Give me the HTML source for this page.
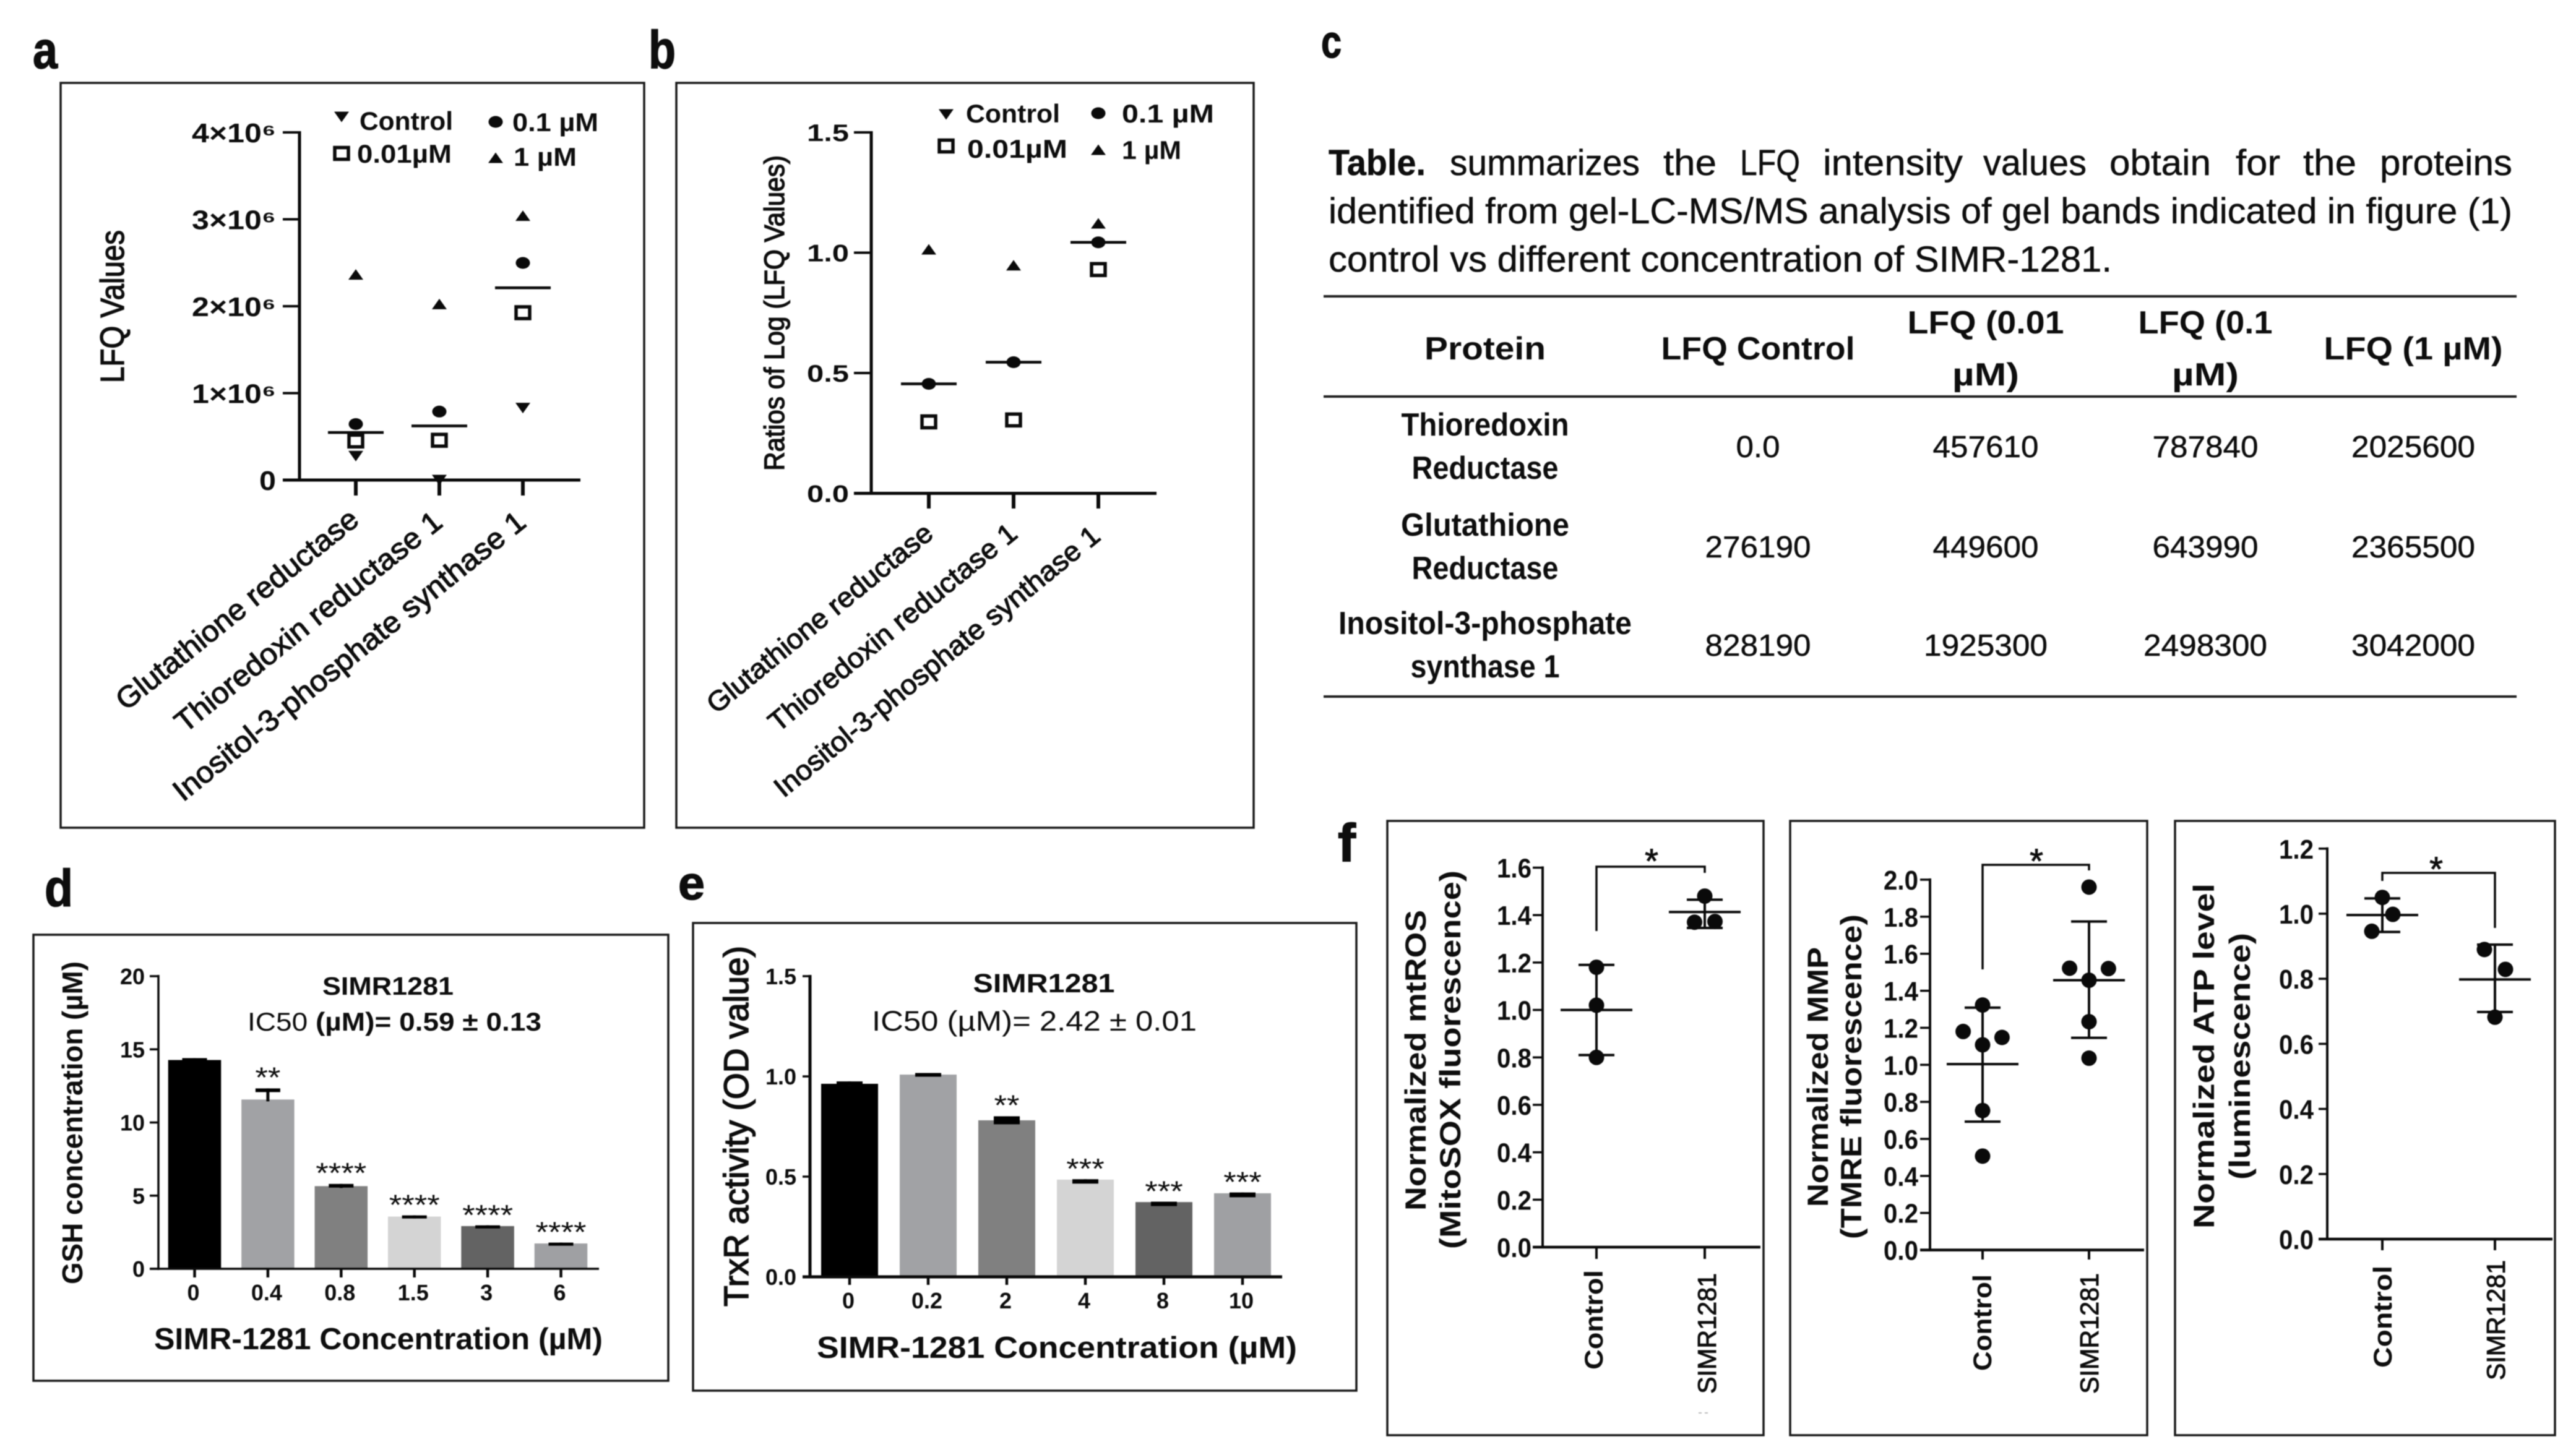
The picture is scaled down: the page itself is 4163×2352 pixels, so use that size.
<!DOCTYPE html>
<html lang="en"><head><meta charset="utf-8"><title>SIMR-1281 figure</title>
<style>
html,body{margin:0;padding:0;background:#fff}
svg{display:block;filter:blur(0.9px)}
text{font-family:"Liberation Sans","DejaVu Sans",sans-serif;fill:#0d0d0d}
.lt{font-size:58px;font-weight:400;stroke:#0d0d0d;stroke-width:0.5}
.tb{font-size:52px;font-weight:700}
.tn{font-size:49px;font-weight:400;stroke:#0d0d0d;stroke-width:0.5}
.pl{font-weight:700;stroke:#0d0d0d;stroke-width:1.5}
.frame{fill:none;stroke:#1a1a1a;stroke-width:3.5}
.rule{stroke:#222;stroke-width:4}
</style></head><body>
<svg id="fig" xmlns="http://www.w3.org/2000/svg" width="4163" height="2352" viewBox="0 0 4163 2352">
<rect x="0" y="0" width="4163" height="2352" fill="#fff"/>
<text class="pl" x="53" y="110" font-size="84" textLength="40" lengthAdjust="spacingAndGlyphs">a</text>
<text class="pl" x="1048" y="110" font-size="86" textLength="44" lengthAdjust="spacingAndGlyphs">b</text>
<text class="pl" x="2135" y="93" font-size="74" textLength="33" lengthAdjust="spacingAndGlyphs">c</text>
<text class="pl" x="72" y="1465" font-size="84" textLength="46" lengthAdjust="spacingAndGlyphs">d</text>
<text class="pl" x="1096" y="1454" font-size="76" textLength="43" lengthAdjust="spacingAndGlyphs">e</text>
<text class="pl" x="2162" y="1392" font-size="86" textLength="29" lengthAdjust="spacingAndGlyphs">f</text>

<rect class="frame" x="98" y="134" width="943" height="1204"/>
<rect class="frame" x="1093" y="134" width="933" height="1204"/>
<rect class="frame" x="54" y="1511" width="1026" height="721"/>
<rect class="frame" x="1120" y="1492" width="1072" height="756"/>
<rect class="frame" x="2242" y="1327" width="608" height="993"/>
<rect class="frame" x="2893" y="1327" width="577" height="993"/>
<rect class="frame" x="3515" y="1327" width="614" height="993"/>

<g>
<text class="lt" style="font-weight:700" x="2147" y="283" textLength="157" lengthAdjust="spacingAndGlyphs">Table.</text>
<text class="lt" x="2343" y="283" textLength="307" lengthAdjust="spacingAndGlyphs">summarizes</text>
<text class="lt" x="2688" y="283" textLength="86" lengthAdjust="spacingAndGlyphs">the</text>
<text class="lt" x="2812" y="283" textLength="97" lengthAdjust="spacingAndGlyphs">LFQ</text>
<text class="lt" x="2946" y="283" textLength="226" lengthAdjust="spacingAndGlyphs">intensity</text>
<text class="lt" x="3205" y="283" textLength="167" lengthAdjust="spacingAndGlyphs">values</text>
<text class="lt" x="3409" y="283" textLength="164" lengthAdjust="spacingAndGlyphs">obtain</text>
<text class="lt" x="3613" y="283" textLength="72" lengthAdjust="spacingAndGlyphs">for</text>
<text class="lt" x="3722" y="283" textLength="86" lengthAdjust="spacingAndGlyphs">the</text>
<text class="lt" x="3846" y="283" textLength="214" lengthAdjust="spacingAndGlyphs">proteins</text>
<text class="lt" x="2147" y="361" textLength="1913" lengthAdjust="spacingAndGlyphs">identified from gel-LC-MS/MS analysis of gel bands indicated in figure (1)</text>
<text class="lt" x="2147" y="439" textLength="1266" lengthAdjust="spacingAndGlyphs">control vs different concentration of SIMR-1281.</text>
</g>
<line class="rule" x1="2139" x2="4067" y1="479" y2="479"/>
<line class="rule" x1="2139" x2="4067" y1="641" y2="641"/>
<line class="rule" x1="2139" x2="4067" y1="1126" y2="1126"/>
<g text-anchor="middle">
<text class="tb" x="2400" y="581" textLength="196" lengthAdjust="spacingAndGlyphs">Protein</text>
<text class="tb" x="2841" y="581" textLength="313" lengthAdjust="spacingAndGlyphs">LFQ Control</text>
<text class="tb" x="3209" y="539" textLength="253" lengthAdjust="spacingAndGlyphs">LFQ (0.01</text>
<text class="tb" x="3209" y="623" textLength="108" lengthAdjust="spacingAndGlyphs">µM)</text>
<text class="tb" x="3564" y="539" textLength="217" lengthAdjust="spacingAndGlyphs">LFQ (0.1</text>
<text class="tb" x="3564" y="623" textLength="108" lengthAdjust="spacingAndGlyphs">µM)</text>
<text class="tb" x="3900" y="581" textLength="289" lengthAdjust="spacingAndGlyphs">LFQ (1 µM)</text>
<text class="tb" x="2400" y="704" textLength="271" lengthAdjust="spacingAndGlyphs">Thioredoxin</text>
<text class="tb" x="2400" y="774" textLength="237" lengthAdjust="spacingAndGlyphs">Reductase</text>
<text class="tn" x="2841" y="739" textLength="71" lengthAdjust="spacingAndGlyphs">0.0</text>
<text class="tn" x="3209" y="739" textLength="171" lengthAdjust="spacingAndGlyphs">457610</text>
<text class="tn" x="3564" y="739" textLength="171" lengthAdjust="spacingAndGlyphs">787840</text>
<text class="tn" x="3900" y="739" textLength="200" lengthAdjust="spacingAndGlyphs">2025600</text>
<text class="tb" x="2400" y="866" textLength="272" lengthAdjust="spacingAndGlyphs">Glutathione</text>
<text class="tb" x="2400" y="936" textLength="237" lengthAdjust="spacingAndGlyphs">Reductase</text>
<text class="tn" x="2841" y="901" textLength="171" lengthAdjust="spacingAndGlyphs">276190</text>
<text class="tn" x="3209" y="901" textLength="171" lengthAdjust="spacingAndGlyphs">449600</text>
<text class="tn" x="3564" y="901" textLength="171" lengthAdjust="spacingAndGlyphs">643990</text>
<text class="tn" x="3900" y="901" textLength="200" lengthAdjust="spacingAndGlyphs">2365500</text>
<text class="tb" x="2400" y="1025" textLength="474" lengthAdjust="spacingAndGlyphs">Inositol-3-phosphate</text>
<text class="tb" x="2400" y="1095" textLength="241" lengthAdjust="spacingAndGlyphs">synthase 1</text>
<text class="tn" x="2841" y="1060" textLength="171" lengthAdjust="spacingAndGlyphs">828190</text>
<text class="tn" x="3209" y="1060" textLength="200" lengthAdjust="spacingAndGlyphs">1925300</text>
<text class="tn" x="3564" y="1060" textLength="200" lengthAdjust="spacingAndGlyphs">2498300</text>
<text class="tn" x="3900" y="1060" textLength="200" lengthAdjust="spacingAndGlyphs">3042000</text>
</g>

<g font-weight="700">
<text x="627" y="1608" font-size="41" text-anchor="middle" textLength="212" lengthAdjust="spacingAndGlyphs" font-weight="700">SIMR1281</text>
<text x="400" y="1666" font-size="42" textLength="475" lengthAdjust="spacingAndGlyphs" font-weight="700"><tspan font-weight="400">IC50 </tspan>(µM)= 0.59 ± 0.13</text>
<text x="1687" y="1604" font-size="43" text-anchor="middle" textLength="229" lengthAdjust="spacingAndGlyphs" font-weight="700">SIMR1281</text>
<text x="1409" y="1666" font-size="45" textLength="525" lengthAdjust="spacingAndGlyphs" font-weight="400">IC50 (µM)= 2.42 ± 0.01</text>
</g>
<rect x="2745" y="2283" width="5" height="2" fill="#bbb"/>
<rect x="2755" y="2283" width="5" height="2" fill="#bbb"/>
</svg>
<script>
// ---- Panel a data ----
const aCategories = ['Glutathione reductase', 'Thioredoxin reductase 1', 'Inositol-3-phosphate synthase 1'];
const aControl = [276190, 0, 828190];
const aPoint01 = [449600, 457610, 1925300];
const aPoint1 = [643990, 787840, 2498300];
const aOne = [2365500, 2025600, 3042000];
const aMedian = [546800, 622700, 2211800];
const aTickValues = [0, 1000000, 2000000, 3000000, 4000000];
const aTickLabels = ['0', '1×10⁶', '2×10⁶', '3×10⁶', '4×10⁶'];
// ---- Panel b data ----
const bCategories = ['Glutathione reductase', 'Thioredoxin reductase 1', 'Inositol-3-phosphate synthase 1'];
const bPoint01 = [0.297, 0.305, 0.93];
const bPoint1 = [0.455, 0.545, 1.043];
const bOne = [1.014, 0.948, 1.122];
const bMedian = [0.455, 0.545, 1.043];
const bTickValues = [0, 0.5, 1, 1.5];
const bTickLabels = ['0.0', '0.5', '1.0', '1.5'];
// ---- Panel d data ----
const dCategories = ['0', '0.4', '0.8', '1.5', '3', '6'];
const dValues = [14.27, 11.57, 5.65, 3.57, 2.92, 1.73];
const dErrUp = [0.13, 0.76, 0.15, 0.08, 0.05, 0.06];
const dErrDown = [0, 0, 0.1, 0.1, 0.1, 0.15];
const dStars = ['', '**', '****', '****', '****', '****'];
const dTickValues = [0, 5, 10, 15, 20];
const dTickLabels = ['0', '5', '10', '15', '20'];
// ---- Panel e data ----
const eCategories = ['0', '0.2', '2', '4', '8', '10'];
const eValues = [0.963, 1.009, 0.781, 0.485, 0.373, 0.417];
const eErrUp = [0.012, 0.008, 0.02, 0.002, 0.002, 0.004];
const eErrDown = [0, 0, 0.02, 0.02, 0.02, 0.02];
const eStars = ['', '', '**', '***', '***', '***'];
const eTickValues = [0, 0.5, 1, 1.5];
const eTickLabels = ['0.0', '0.5', '1.0', '1.5'];
// ---- Panel f data ----
const fCategories = ['Control', 'SIMR1281'];
const mtrosControl = [1.18, 1.02, 0.8];
const mtrosTreated = [1.48, 1.37, 1.373];
const mtrosSlotsControl = [0, 0, 0];
const mtrosSlotsTreated = [0, -1, 1];
const mtrosMean = [1.0, 1.413];
const mtrosUpper = [1.19, 1.465];
const mtrosLower = [0.81, 1.346];
const mtrosTicks = ['0.0', '0.2', '0.4', '0.6', '0.8', '1.0', '1.2', '1.4', '1.6'];
const mmpControl = [1.323, 1.18, 1.148, 1.108, 0.753, 0.507];
const mmpTreated = [1.96, 1.522, 1.52, 1.457, 1.233, 1.036];
const mmpSlotsControl = [0, -2, 2, 0, 0, 0];
const mmpSlotsTreated = [0, -2, 2, 0, 0, 0];
const mmpMean = [1.004, 1.457];
const mmpUpper = [1.309, 1.774];
const mmpLower = [0.693, 1.146];
const mmpTicks = ['0.0', '0.2', '0.4', '0.6', '0.8', '1.0', '1.2', '1.4', '1.6', '1.8', '2.0'];
const atpControl = [1.05, 0.998, 0.946];
const atpTreated = [0.89, 0.829, 0.682];
const atpSlotsControl = [0, 1, -1];
const atpSlotsTreated = [-1, 1, 0];
const atpMean = [0.996, 0.798];
const atpUpper = [1.047, 0.905];
const atpLower = [0.944, 0.698];
const atpTicks = ['0.0', '0.2', '0.4', '0.6', '0.8', '1.0', '1.2'];

const NS = 'http://www.w3.org/2000/svg';
const fig = document.getElementById('fig');
function mk(parent, tag, attrs, name) {
  const el = document.createElementNS(NS, tag);
  for (const k in attrs) el.setAttribute(k, attrs[k]);
  
  
  parent.appendChild(el);
  return el;
}
function group(name) { return mk(fig, 'g', {}, name); }
function txt(p, s, x, y, o, name) {
  const a = { 'font-size': o.size, 'font-weight': o.weight || 700, 'text-anchor': o.anchor || 'start',
    transform: 'translate(' + x + ',' + y + ')' + (o.rot ? ' rotate(' + o.rot + ')' : '') };
  if (o.len) { a.textLength = o.len; a.lengthAdjust = 'spacingAndGlyphs'; }
  if (o.sw) { a.stroke = '#0d0d0d'; a['stroke-width'] = o.sw; }
  const t = mk(p, 'text', a, name);
  t.textContent = s;
  return t;
}
function ln(p, x1, y1, x2, y2, w, name) {
  return mk(p, 'line', { x1: x1, y1: y1, x2: x2, y2: y2, stroke: '#0a0a0a', 'stroke-width': w }, name);
}
function linear(zero, perUnit) { return function (v) { return zero - v * perUnit; }; }
function triangle(p, x, y, up, name) {
  const d = up ? -1 : 1;
  const pts = [[x - 12, y - d * 8.5], [x + 12, y - d * 8.5], [x, y + d * 8.5]].map(function (q) { return q.join(','); }).join(' ');
  return mk(p, 'polygon', { points: pts, fill: '#0a0a0a' }, name);
}
function square(p, x, y, name) {
  return mk(p, 'rect', { x: x - 11, y: y - 9.5, width: 22, height: 19, fill: '#fff', stroke: '#0a0a0a', 'stroke-width': 5.5 }, name);
}
function circle(p, x, y, name) {
  return mk(p, 'ellipse', { cx: x, cy: y, rx: 11.5, ry: 9.5, fill: '#0a0a0a' }, name);
}

// -------- panels a and b ---------
function lfqPanel(c) {
  const g = group(c.name);
  const y = linear(c.y0, c.perUnit);
  const topV = c.tickValues[c.tickValues.length - 1];
  ln(g, c.axisX, y(topV) - 2, c.axisX, c.y0 + 2, 5, 'y-axis-line');
  ln(g, c.tickLeft, c.y0, c.axisRight, c.y0, 5, 'x-axis-line');
  c.tickValues.forEach(function (v, i) {
    ln(g, c.tickLeft, y(v), c.axisX, y(v), 4, 'y-tick');
    txt(g, c.tickLabels[i], c.labelRight, y(v) + c.tickSize * 0.36, { size: c.tickSize, anchor: 'end', len: c.tickLen(c.tickLabels[i]) }, 'y-tick-label');
  });
  c.categories.forEach(function (cat, i) {
    const x = c.catX[i];
    ln(g, x, c.y0, x, c.tickBottom, 6, 'x-tick');
    txt(g, cat, x + c.labelDx[i], c.labelY[i], { size: c.catSize, weight: 400, anchor: 'end', rot: c.catRot, len: c.catLen[i], sw: 1.2 }, 'category-label');
    if (c.control) triangle(g, x, y(c.control[i]), false, 'point-control');
    circle(g, x, y(c.p1[i]), 'point-0-1-um');
    square(g, x, y(c.p01[i]), 'point-0-01-um');
    triangle(g, x, y(c.one[i]), true, 'point-1-um');
    ln(g, x - 45, y(c.median[i]), x + 45, y(c.median[i]), 4.5, 'median-line');
  });
  txt(g, c.yTitle, c.yTitleX, c.yTitleY, { size: c.yTitleSize, weight: 400, rot: -90, len: c.yTitleLen, sw: 1.4 }, 'y-axis-title');
  const L = c.legend;
  triangle(g, L.x1, L.y1m, false, 'legend-marker-control');
  txt(g, 'Control', L.tx1, L.y1t, { size: 42, len: L.w[0] }, 'legend-label-control');
  circle(g, L.x2, L.y2m, 'legend-marker-0-1-um');
  txt(g, '0.1 µM', L.tx2, L.y2t, { size: 42, len: L.w[1] }, 'legend-label-0-1-um');
  square(g, L.x1, L.y3m, 'legend-marker-0-01-um');
  txt(g, '0.01µM', L.tx3, L.y3t, { size: 42, len: L.w[2] }, 'legend-label-0-01-um');
  triangle(g, L.x2, L.y4m, true, 'legend-marker-1-um');
  txt(g, '1 µM', L.tx4, L.y4t, { size: 42, len: L.w[3] }, 'legend-label-1-um');
}
lfqPanel({
  name: 'panel-a-lfq-values-chart', categories: aCategories, control: aControl, p01: aPoint01, p1: aPoint1, one: aOne, median: aMedian,
  tickValues: aTickValues, tickLabels: aTickLabels, y0: 776, perUnit: 140.5 / 1000000, axisX: 484, tickLeft: 457, axisRight: 938, tickBottom: 801,
  labelRight: 446, tickSize: 44, tickLen: function (s) { return s.length > 1 ? 136 : 27; },
  catX: [575, 710, 845], labelDx: [8, 8, 8], labelY: [845, 849, 849], catRot: -38.8, catSize: 48, catLen: [487, 538, 715],
  yTitle: 'LFQ Values', yTitleX: 200, yTitleY: 619, yTitleSize: 54, yTitleLen: 247,
  legend: { x1: 552, x2: 801, y1m: 189, y2m: 197, y3m: 248, y4m: 255, tx1: 581, tx2: 828, tx3: 577, tx4: 830, y1t: 210, y2t: 212, y3t: 263, y4t: 268, w: [151, 139, 153, 102] }
});
lfqPanel({
  name: 'panel-b-log-ratio-chart', categories: bCategories, control: null, p01: bPoint01, p1: bPoint1, one: bOne, median: bMedian,
  tickValues: bTickValues, tickLabels: bTickLabels, y0: 797.5, perUnit: 389, axisX: 1408, tickLeft: 1380, axisRight: 1869, tickBottom: 822,
  labelRight: 1372, tickSize: 39, tickLen: function () { return 68; },
  catX: [1501, 1638, 1775], labelDx: [10, 9, 6], labelY: [867, 867, 871], catRot: -39.2, catSize: 45, catLen: [456, 503, 664],
  yTitle: 'Ratios of Log (LFQ Values)', yTitleX: 1267, yTitleY: 761, yTitleSize: 45, yTitleLen: 510,
  legend: { x1: 1529, x2: 1775, y1m: 185, y2m: 183, y3m: 236, y4m: 242, tx1: 1561, tx2: 1813, tx3: 1563, tx4: 1813, y1t: 198, y2t: 198, y3t: 255, y4t: 257, w: [152, 149, 162, 96] }
});

// -------- panels d and e ---------
const barFills = ['#000000', '#a1a2a5', '#808080', '#d4d4d4', '#636363', '#9fa0a3'];
function barPanel(c) {
  const g = group(c.name);
  const y = linear(c.y0, c.perUnit);
  const x = function (i) { return c.firstX + i * c.stepX; };
  c.values.forEach(function (v, i) {
    mk(g, 'rect', { x: x(i) - c.barW / 2, y: y(v), width: c.barW, height: c.y0 - y(v), fill: barFills[i] }, 'bar-' + c.categories[i]);
  });
  c.values.forEach(function (v, i) {
    const top = y(v + c.errUp[i]);
    ln(g, x(i), top, x(i), y(v) + 3, 5, 'error-stem');
    const capHeight = c.errDown[i] > 0 ? Math.max(5, y(v - c.errDown[i]) - top) : 6;
    mk(g, 'rect', { x: x(i) - c.capW, y: top, width: 2 * c.capW, height: capHeight, fill: '#000' }, 'error-cap');
    if (c.stars[i]) txt(g, c.stars[i], x(i), top + c.starDy[i], { size: 46, weight: 400, anchor: 'middle', len: c.stars[i].length * 20.5 }, 'significance-stars');
    ln(g, x(i), c.y0, x(i), c.tickBottom, 4.5, 'x-tick');
    txt(g, c.categories[i], x(i) - 2, c.catY, { size: 36, anchor: 'middle' }, 'x-tick-label');
  });
  const top = y(c.tickValues[c.tickValues.length - 1]);
  ln(g, c.axisX, top - 2, c.axisX, c.y0 + 2, c.axisW, 'y-axis-line');
  ln(g, c.tickLeft, c.y0, c.axisRight, c.y0, c.axisW, 'x-axis-line');
  c.tickValues.forEach(function (v, i) {
    ln(g, c.tickLeft, y(v), c.axisX, y(v), 3.5, 'y-tick');
    txt(g, c.tickLabels[i], c.labelRight, y(v) + 13, { size: 36, anchor: 'end' }, 'y-tick-label');
  });
  txt(g, 'SIMR-1281 Concentration (µM)', c.xTitleX, c.xTitleY, { size: 49, len: c.xTitleLen }, 'x-axis-title');
  txt(g, c.yTitle, c.yTitleX, c.yTitleY, { size: c.yTitleSize, rot: -90, len: c.yTitleLen, weight: c.yTitleWeight, sw: c.yTitleStroke }, 'y-axis-title');
}
barPanel({
  name: 'panel-d-gsh-chart', categories: dCategories, values: dValues, errUp: dErrUp, errDown: dErrDown, stars: dStars,
  tickValues: dTickValues, tickLabels: dTickLabels, y0: 2051, perUnit: 23.65, firstX: 314.5, stepX: 118.4, barW: 85.5, capW: 20,
  axisX: 256, tickLeft: 242, axisRight: 968, axisW: 3.5, tickBottom: 2065, labelRight: 234, catY: 2102, starDy: [0, -2, -2, -1, -1, -1],
  xTitleX: 249, xTitleY: 2181, xTitleLen: 725, yTitle: 'GSH concentration (µM)', yTitleX: 133, yTitleY: 2076, yTitleSize: 46, yTitleLen: 522, yTitleWeight: 700, yTitleStroke: 0
});
barPanel({
  name: 'panel-e-trxr-chart', categories: eCategories, values: eValues, errUp: eErrUp, errDown: eErrDown, stars: eStars,
  tickValues: eTickValues, tickLabels: eTickLabels, y0: 2064, perUnit: 324, firstX: 1373, stepX: 127, barW: 92, capW: 21,
  axisX: 1309, tickLeft: 1297, axisRight: 2072, axisW: 5, tickBottom: 2077, labelRight: 1287, catY: 2115, starDy: [0, 0, -2, -1, -1, -1],
  xTitleX: 1320, xTitleY: 2195, xTitleLen: 776, yTitle: 'TrxR activity (OD value)', yTitleX: 1209, yTitleY: 2112, yTitleSize: 56, yTitleLen: 583, yTitleWeight: 400, yTitleStroke: 1.6
});

// -------- panel f ---------
function dotPanel(c) {
  const g = group(c.name);
  const y = linear(c.y0, c.perUnit);
  c.ticks.forEach(function (label, i) {
    const v = parseFloat(label);
    ln(g, c.tickLeft, y(v), c.axisX, y(v), 3.5, 'y-tick');
    txt(g, label, c.labelRight, y(v) + 16, { size: 44, anchor: 'end', len: 56 }, 'y-tick-label');
  });
  const topV = parseFloat(c.ticks[c.ticks.length - 1]);
  ln(g, c.axisX, y(topV) - 2, c.axisX, c.y0 + 2, 4, 'y-axis-line');
  ln(g, c.tickLeft, c.y0, c.axisRight, c.y0, 4.5, 'x-axis-line');
  fCategories.forEach(function (cat, i) {
    const x = c.catX[i];
    ln(g, x, c.y0, x, c.tickBottom, 4, 'x-tick');
    txt(g, cat, c.catBase[i], c.catStart[i], { size: 42, rot: -90, weight: i ? 400 : 700, len: c.catLen[i], sw: i ? 1 : 0 }, 'category-label');
    ln(g, x, y(c.upper[i]), x, y(c.lower[i]), 4, 'sd-stem');
    ln(g, x - 29, y(c.upper[i]), x + 29, y(c.upper[i]), 4, 'sd-cap-upper');
    ln(g, x - 29, y(c.lower[i]), x + 29, y(c.lower[i]), 4, 'sd-cap-lower');
    ln(g, x - 58, y(c.mean[i]), x + 58, y(c.mean[i]), 4, 'mean-line');
    c.points[i].forEach(function (v, j) {
      mk(g, 'circle', { cx: x + c.slots[i][j] * c.slotPx, cy: y(v), r: 12.5, fill: '#0a0a0a' }, 'data-point');
    });
  });
  const b = c.bracket;
  mk(g, 'polyline', { points: [c.catX[0], b.left, c.catX[0], b.top, c.catX[1], b.top, c.catX[1], b.right].join(' '), fill: 'none', stroke: '#0a0a0a', 'stroke-width': 3.5 }, 'significance-bracket');
  txt(g, '*', b.starX, b.starY + 32, { size: 56, weight: 400, anchor: 'middle', sw: 1 }, 'significance-star');
  c.titles.forEach(function (t, i) {
    txt(g, t[0], t[1], t[2], { size: 47, rot: -90, len: t[3] }, 'y-axis-title-line-' + (i + 1));
  });
}
dotPanel({
  name: 'panel-f-mtros-chart', ticks: mtrosTicks, y0: 2016, perUnit: 383.4, axisX: 2493, tickLeft: 2477, axisRight: 2845, tickBottom: 2035, labelRight: 2475,
  catX: [2580, 2755], catBase: [2590, 2773], catStart: [2214, 2253], catLen: [161, 195],
  points: [mtrosControl, mtrosTreated], slots: [mtrosSlotsControl, mtrosSlotsTreated], slotPx: 16.5, mean: mtrosMean, upper: mtrosUpper, lower: mtrosLower,
  bracket: { left: 1505, top: 1401, right: 1411, starX: 2669, starY: 1379 },
  titles: [['Normalized mtROS', 2304, 1957, 486], ['(MitoSOX fluorescence)', 2360, 2019, 612]]
});
dotPanel({
  name: 'panel-f-mmp-chart', ticks: mmpTicks, y0: 2020.6, perUnit: 299.3, axisX: 3119, tickLeft: 3103, axisRight: 3465, tickBottom: 2036, labelRight: 3100,
  catX: [3204, 3376], catBase: [3218, 3391], catStart: [2216, 2253], catLen: [156, 195],
  points: [mmpControl, mmpTreated], slots: [mmpSlotsControl, mmpSlotsTreated], slotPx: 15.7, mean: mmpMean, upper: mmpUpper, lower: mmpLower,
  bracket: { left: 1567, top: 1398, right: 1407, starX: 3291, starY: 1379 },
  titles: [['Normalized MMP', 2954, 1951, 420], ['(TMRE fluorescence)', 3008, 2003, 525]]
});
dotPanel({
  name: 'panel-f-atp-chart', ticks: atpTicks, y0: 2003, perUnit: 526, axisX: 3761, tickLeft: 3747, axisRight: 4125, tickBottom: 2021, labelRight: 3739,
  catX: [3850, 4032], catBase: [3865, 4048], catStart: [2211, 2231], catLen: [165, 194],
  points: [atpControl, atpTreated], slots: [atpSlotsControl, atpSlotsTreated], slotPx: 17, mean: atpMean, upper: atpUpper, lower: atpLower,
  bracket: { left: 1424, top: 1411, right: 1500, starX: 3937, starY: 1392 },
  titles: [['Normalized ATP level', 3578, 1986, 558], ['(luminescence)', 3636, 1907, 399]]
});
</script>
</body></html>
